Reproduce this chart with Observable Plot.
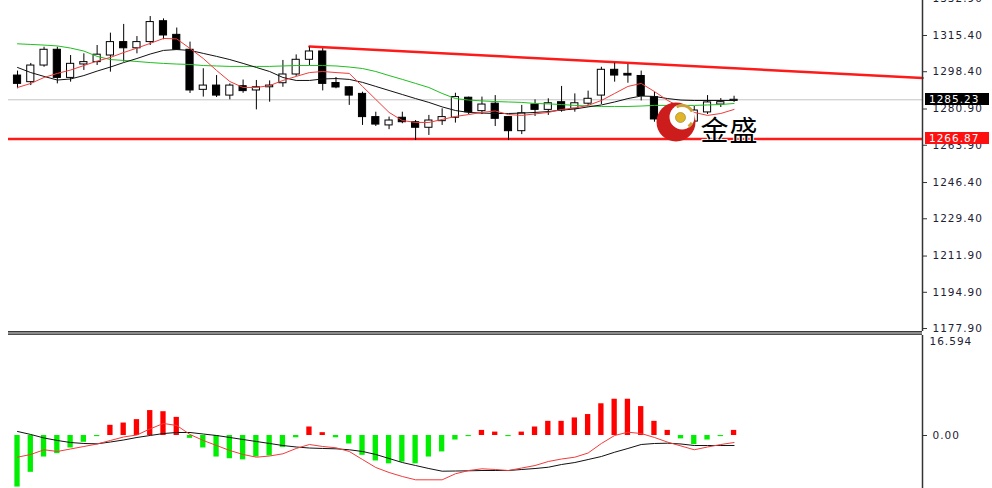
<!DOCTYPE html>
<html><head><meta charset="utf-8">
<script src="https://cdn.jsdelivr.net/npm/d3@7"></script>
<script src="https://cdn.jsdelivr.net/npm/@observablehq/plot@0.6"></script>
<style>
html,body{margin:0;padding:0;background:#fff;}
#wrap{position:relative;width:992px;height:488px;overflow:hidden;background:#fff;}
#main,#macd{position:absolute;left:0;}
#main{top:0;z-index:2;}
#macd{top:335px;z-index:1;}
.sep{position:absolute;left:8px;width:914px;top:331px;height:2px;border-top:1px solid #3a3a3a;border-bottom:1px solid #505050;background:#8c8c8c;z-index:1;}
.tag{position:absolute;left:925px;width:64px;height:12px;line-height:12px;color:#fff;font:10.5px "DejaVu Sans",sans-serif;letter-spacing:1px;padding-left:4px;box-sizing:border-box;z-index:3;}
</style></head>
<body><div id="wrap"><div id="main"></div><div class="sep"></div><div id="macd"></div></div>
<script>
// ---- price data (OHLC per bar) ----
const opens  = [1296.6,1293.5,1301.3,1308.7,1295.5,1301.8,1302.9,1306.0,1312.3,1309.4,1312.3,1322.1,1315.7,1308.7,1289.9,1291.9,1287.2,1291.6,1289.6,1291.1,1293.0,1297.1,1304.0,1307.9,1293.1,1291.1,1288.0,1277.1,1273.2,1276.8,1274.7,1272.1,1275.2,1276.8,1286.2,1279.9,1283.4,1277.1,1270.5,1283.0,1280.5,1284.1,1281.0,1283.4,1287.2,1299.3,1297.4,1296.4,1286.5,1276.0,1272.7,1275.0,1279.3,1283.0,1284.7];
const highs  = [1298.7,1302.3,1309.9,1309.9,1306.0,1306.8,1310.7,1316.5,1320.6,1314.9,1324.3,1323.2,1318.9,1312.3,1299.8,1296.6,1292.7,1294.5,1294.3,1294.1,1303.7,1306.3,1309.9,1309.2,1295.7,1291.3,1288.8,1279.4,1277.1,1279.4,1275.5,1277.9,1281.0,1288.3,1286.5,1286.5,1287.2,1277.4,1282.6,1285.2,1285.7,1291.5,1288.0,1289.3,1300.5,1302.4,1301.8,1298.7,1288.8,1278.3,1276.9,1282.1,1287.2,1285.8,1286.9];
const lows   = [1290.4,1291.9,1300.5,1292.7,1293.5,1299.0,1301.3,1298.2,1302.9,1306.8,1310.7,1313.4,1308.4,1288.2,1286.5,1286.3,1285.2,1288.3,1280.5,1284.1,1291.1,1296.2,1301.3,1289.4,1290.4,1282.6,1273.2,1272.7,1271.2,1274.0,1266.1,1268.5,1273.2,1274.3,1278.3,1278.3,1272.7,1266.1,1268.9,1277.4,1277.9,1279.4,1279.4,1282.6,1283.0,1293.5,1293.0,1284.7,1274.7,1270.8,1271.3,1274.1,1278.3,1281.6,1284.0];
const closes = [1292.7,1301.3,1308.7,1295.5,1302.1,1302.9,1306.4,1312.3,1309.4,1312.3,1321.7,1315.4,1308.7,1289.6,1291.9,1287.2,1291.9,1289.3,1291.1,1291.9,1297.1,1304.0,1307.9,1292.7,1291.0,1287.2,1277.1,1273.6,1275.5,1274.7,1272.1,1275.5,1277.1,1286.5,1279.4,1283.0,1276.3,1270.5,1278.9,1280.5,1283.6,1280.2,1283.6,1285.7,1299.3,1296.6,1296.6,1287.0,1276.0,1272.7,1275.0,1280.2,1284.0,1284.1,1285.23];

// ---- moving averages ----
const maFast = [1291.0,1292.9,1295.7,1297.6,1299.2,1301.3,1303.4,1305.1,1307.4,1309.5,1311.7,1314.0,1313.8,1309.3,1304.6,1299.0,1293.8,1291.0,1291.0,1291.9,1294.3,1296.2,1298.0,1298.5,1298.0,1297.6,1291.5,1285.4,1279.3,1275.5,1274.6,1274.6,1276.0,1277.4,1278.3,1279.3,1280.0,1278.3,1277.9,1278.6,1279.3,1280.7,1281.4,1282.6,1284.9,1288.2,1291.5,1292.9,1289.1,1284.9,1281.6,1279.3,1277.9,1278.8,1280.7];
const maMid  = [1300.4,1298.0,1296.2,1294.5,1295.0,1296.6,1298.7,1300.6,1302.7,1304.6,1306.7,1308.4,1308.8,1308.4,1307.0,1305.6,1304.1,1302.3,1300.4,1298.5,1295.7,1294.3,1294.3,1295.0,1295.2,1294.8,1293.4,1291.5,1289.6,1287.7,1285.8,1284.0,1281.9,1280.2,1279.3,1279.0,1278.8,1278.8,1279.0,1279.3,1279.7,1280.4,1280.9,1281.9,1282.8,1284.2,1285.8,1287.0,1286.8,1285.8,1285.1,1284.9,1284.9,1284.9,1284.9];
const maSlow = [1311.5,1311.2,1310.9,1310.5,1309.5,1308.1,1305.6,1304.1,1303.7,1303.2,1302.7,1302.3,1302.0,1301.8,1301.3,1301.1,1300.9,1300.9,1300.9,1300.9,1301.1,1301.3,1301.3,1301.3,1301.1,1300.6,1299.9,1298.5,1296.6,1294.8,1292.9,1291.0,1288.2,1285.8,1285.1,1284.7,1284.4,1284.2,1284.0,1283.5,1283.3,1283.0,1282.6,1282.3,1282.1,1282.1,1282.1,1282.3,1282.6,1282.6,1282.6,1282.6,1282.8,1283.0,1283.5];

// ---- levels ----
const lastPrice = 1285.23;
const supportLevel = 1266.87;
const trendBars = [22, 68.2];
const trendPrices = [1310.2, 1295.5];
const priceTicks = [1332.90,1315.40,1298.40,1280.90,1263.90,1246.40,1229.40,1211.90,1194.90,1177.90];
const priceDomain = [1176.5, 1331.82];
const barDomain = [-0.68, 68.2];

// ---- MACD ----
const macdHist = [-9.1,-6.5,-3.8,-3.2,-2.2,-1.2,-0.2,1.8,2.2,2.8,4.4,4.2,3.2,-0.5,-2.2,-3.8,-4.1,-4.3,-3.8,-3.6,-2.1,-0.4,1.5,0.5,-0.4,-1.5,-3.5,-4.5,-5.0,-4.7,-5.0,-3.8,-2.9,-0.8,-0.2,0.9,0.6,-0.2,0.6,1.5,2.5,2.5,3.1,3.7,5.6,6.4,6.4,5.1,2.5,0.9,-0.6,-1.6,-0.8,-0.2,0.9];
const macdLine = [0.71,0.18,-0.44,-0.88,-1.24,-1.41,-1.47,-1.15,-0.79,-0.35,0,0.35,0.53,0.53,0.26,0,-0.35,-0.71,-1.06,-1.41,-1.77,-2.03,-2.21,-2.29,-2.35,-2.52,-2.82,-3.35,-4.06,-4.77,-5.30,-5.83,-6.30,-6.27,-6.23,-6.18,-6.18,-6.18,-6.00,-5.83,-5.60,-5.12,-4.77,-4.24,-3.71,-2.95,-2.29,-1.59,-1.41,-1.36,-1.50,-1.77,-1.77,-1.77,-1.77];
const signalLine = [-3.83,-3.35,-2.52,-2.82,-2.38,-1.94,-1.50,-0.88,-0.26,0.09,1.18,2.12,1.77,0.18,-0.88,-1.77,-2.65,-3.35,-3.83,-3.62,-3.23,-2.29,-1.59,-1.94,-2.17,-2.82,-4.24,-5.65,-6.53,-7.24,-7.82,-7.82,-7.82,-6.76,-6.18,-5.88,-6.00,-6.18,-5.74,-5.30,-4.59,-4.15,-3.83,-3.09,-1.41,0,0.58,0.35,-0.35,-1.18,-1.85,-2.52,-2.03,-1.59,-1.24];
const macdTop = 16.594;
const macdDomain = [-9.356, 17.652];

// ---- build tables ----
const bars = d3.range(closes.length).map(i => ({i, o: opens[i], h: highs[i], l: lows[i], c: closes[i],
  f: maFast[i], m: maMid[i], s: maSlow[i], hist: macdHist[i], macd: macdLine[i], sig: signalLine[i]}));
const up = bars.filter(d => d.c >= d.o);
const down = bars.filter(d => d.c < d.o);
const trend = trendBars.map((b, k) => ({i: b, p: trendPrices[k]}));

const axisFont = {fontSize: 10.5, fill: "#1d2233"};
const mainPlot = Plot.plot({
  width: 992, height: 331,
  marginLeft: 8, marginRight: 70, marginTop: 0, marginBottom: 0,
  x: {domain: barDomain, axis: null},
  y: {domain: priceDomain, axis: null},
  style: {fontFamily: "DejaVu Sans, sans-serif", background: "transparent", letterSpacing: "1px", overflow: "visible"},
  marks: [
    Plot.ruleY([lastPrice], {stroke: "#c3c3c3", strokeWidth: 1}),
    Plot.ruleY([supportLevel], {stroke: "#ff1a1a", strokeWidth: 2.5}),
    Plot.line(trend, {x: "i", y: "p", stroke: "#ff1a1a", strokeWidth: 2.5}),
    Plot.ruleX(bars, {x: "i", y1: "l", y2: "h", stroke: "#000", strokeWidth: 1}),
    Plot.rect(up, {x1: d => d.i - 0.27, x2: d => d.i + 0.27, y1: "o", y2: "c", fill: "#fff", stroke: "#000", strokeWidth: 1}),
    Plot.rect(down, {x1: d => d.i - 0.27, x2: d => d.i + 0.27, y1: "o", y2: "c", fill: "#000", stroke: "#000", strokeWidth: 1}),
    Plot.line(bars, {x: "i", y: "s", stroke: "#1fbf1f", strokeWidth: 1}),
    Plot.line(bars, {x: "i", y: "m", stroke: "#111", strokeWidth: 1}),
    Plot.line(bars, {x: "i", y: "f", stroke: "#f23b3b", strokeWidth: 1}),
    // watermark logo
    Plot.dot([0], {frameAnchor: "top-left", dx: 667.5, dy: 121.5, r: 19.5, fill: "#cc1c1c"}),
    Plot.dot([0], {frameAnchor: "top-left", dx: 673.5, dy: 116.5, r: 12.5, fill: "#fff"}),
    Plot.dot([0], {frameAnchor: "top-left", dx: 673.5, dy: 116.5, r: 11.5, fill: "none", stroke: "#c9a23a", strokeWidth: 3,
      strokeDasharray: "0 6.02 5.02 37.13 18.06 6.02"}),
    Plot.dot([0], {frameAnchor: "top-left", dx: 672, dy: 117, r: 5, fill: "#e0b52a", stroke: "#9a7a10", strokeWidth: 0.6}),
    Plot.text(["金盛"], {frameAnchor: "top-left", dx: 692, dy: 121, textAnchor: "start", fontSize: 28,
      fontFamily: "Noto Sans CJK SC", fill: "#000", stroke: "#fff", strokeWidth: 2, paintOrder: "stroke", letterSpacing: "1px"}),
    Plot.ruleX([barDomain[1]], {stroke: "#333", strokeWidth: 1.5}),
    Plot.axisY({ticks: priceTicks, anchor: "right", tickSize: 4, tickPadding: 6, stroke: "#333",
      tickFormat: d => d.toFixed(2), ...axisFont})
  ]
});
document.getElementById("main").appendChild(mainPlot);

// price tags on the axis, placed through the plot's own y scale
const ys = mainPlot.scale("y");
[[lastPrice, "#000"], [supportLevel, "#ff1010"]].forEach(([v, bg]) => {
  const el = document.createElement("div");
  el.className = "tag";
  el.style.background = bg;
  el.style.top = (ys.apply(v) - 6) + "px";
  el.textContent = v.toFixed(2);
  document.getElementById("wrap").appendChild(el);
});

const macdPlot = Plot.plot({
  width: 992, height: 153,
  marginLeft: 8, marginRight: 70, marginTop: 0, marginBottom: 0,
  x: {domain: barDomain, axis: null},
  y: {domain: macdDomain, axis: null},
  style: {fontFamily: "DejaVu Sans, sans-serif", background: "transparent", letterSpacing: "1px"},
  marks: [
    Plot.rect(bars.filter(d => d.hist >= 0), {x1: d => d.i - 0.2, x2: d => d.i + 0.2, y1: 0, y2: "hist", fill: "#ff0000"}),
    Plot.rect(bars.filter(d => d.hist < 0), {x1: d => d.i - 0.2, x2: d => d.i + 0.2, y1: 0, y2: "hist", fill: "#00ee00"}),
    Plot.line(bars, {x: "i", y: "macd", stroke: "#111", strokeWidth: 1}),
    Plot.line(bars, {x: "i", y: "sig", stroke: "#f23b3b", strokeWidth: 1}),
    Plot.ruleX([barDomain[1]], {stroke: "#333", strokeWidth: 1.5}),
    Plot.axisY({ticks: [0], anchor: "right", tickSize: 4, tickPadding: 6, stroke: "#333", tickFormat: d => d.toFixed(2), ...axisFont}),
    Plot.axisY({ticks: [macdTop], anchor: "right", tickSize: 0, tickPadding: 7, tickFormat: d => d.toFixed(3), ...axisFont})
  ]
});
document.getElementById("macd").appendChild(macdPlot);
</script>
</body></html>
